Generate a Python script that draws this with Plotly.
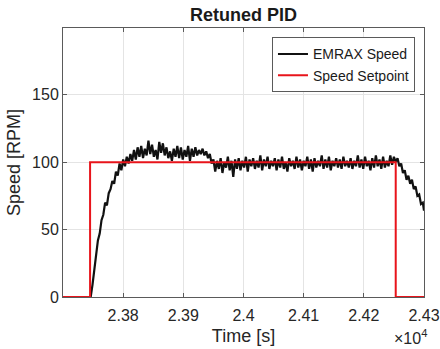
import plotly.graph_objects as go

# ---- data ----
t_start = 23746      # s, first sample of the speed trace after standstill
t_step = 3           # s, sampling interval used for the read-off values
pre_t = [23700, 23743]
pre_speed = [0, 0]
speed = [
    0, 9, 20, 31, 42, 47, 57, 61, 70, 68, 77, 80, 86, 84, 93, 90, 99, 94,
    102, 97, 104, 99, 106, 101, 109, 102, 111, 104, 112, 103, 110, 105, 116, 106,
    113, 104, 109, 102, 115, 107, 114, 105, 111, 103, 108, 101, 110, 104, 112, 103,
    111, 102, 109, 104, 112, 101, 110, 104, 111, 105, 109, 106, 110, 105, 108, 103,
    106, 99, 102, 93, 101, 95, 103, 92, 100, 96, 104, 94, 101, 89, 102, 95,
    103, 94, 101, 96, 104, 93, 102, 97, 103, 95, 101, 96, 105, 94, 102, 97,
    104, 95, 101, 97, 103, 94, 102, 96, 104, 95, 100, 93, 103, 97, 101, 95,
    104, 96, 102, 94, 101, 97, 104, 95, 102, 93, 103, 96, 101, 97, 105, 95,
    102, 96, 104, 94, 101, 97, 103, 96, 102, 95, 104, 97, 101, 96, 103, 95,
    101, 97, 105, 96, 102, 95, 104, 97, 101, 94, 103, 96, 105, 97, 102, 95,
    104, 96, 101, 97, 105, 98, 104, 100, 103, 97, 99, 92, 94, 87, 90, 84,
    87, 80, 82, 75, 76, 69, 70,
]
end_t = [24300]
end_speed = [64]

setpoint_t = [23700, 23745, 23745, 24253, 24253, 24300]
setpoint_v = [0, 0, 100, 100, 0, 0]

xtick_vals = [23800, 23900, 24000, 24100, 24200, 24300]
xtick_text = ["2.38", "2.39", "2.4", "2.41", "2.42", "2.43"]
ytick_vals = [0, 50, 100, 150]

speed_t = pre_t + [t_start + t_step * i for i in range(len(speed))] + end_t
speed_v = pre_speed + speed + end_speed

FONT = "Liberation Sans, Arial, sans-serif"
AX = "#5a5a5a"

fig = go.Figure()
fig.add_trace(go.Scatter(x=speed_t, y=speed_v, mode="lines", name="EMRAX Speed",
                         line=dict(color="#111111", width=2.2)))
fig.add_trace(go.Scatter(x=setpoint_t, y=setpoint_v, mode="lines", name="Speed Setpoint",
                         line=dict(color="#e8141b", width=2)))

fig.update_layout(
    width=440, height=349,
    margin=dict(l=63, r=16, t=28, b=52, autoexpand=False),
    paper_bgcolor="white", plot_bgcolor="white",
    font=dict(family=FONT, color="#262626", size=16),
    title=dict(text="<b>Retuned PID</b>", xref="paper", x=0.5, xanchor="center",
               yref="container", y=0.957, yanchor="middle",
               font=dict(size=18, color="#1a1a1a"), automargin=False),
    showlegend=True,
    legend=dict(x=0.975, y=0.965, xanchor="right", yanchor="top",
                bgcolor="white", bordercolor=AX, borderwidth=1,
                font=dict(size=14, color="#1a1a1a"),
                tracegroupgap=0, itemwidth=30),
)
fig.update_xaxes(
    range=[23700, 24300], tickvals=xtick_vals, ticktext=xtick_text,
    showgrid=True, gridcolor="#e4e4e4", gridwidth=1, zeroline=False,
    showline=True, linecolor=AX, linewidth=1, mirror="ticks",
    ticks="inside", ticklen=4, tickcolor=AX, ticklabelstandoff=4,
    title=dict(text="Time [s]", font=dict(size=18), standoff=6),
    tickfont=dict(size=16), automargin=False,
)
fig.update_yaxes(
    range=[0, 199.5], tickvals=ytick_vals,
    showgrid=True, gridcolor="#e4e4e4", gridwidth=1, zeroline=False,
    showline=True, linecolor=AX, linewidth=1, mirror="ticks",
    ticks="inside", ticklen=4, tickcolor=AX,
    title=dict(text="Speed [RPM]", font=dict(size=18), standoff=6),
    tickfont=dict(size=16), automargin=False,
)
fig.add_annotation(text="×10<sup>4</sup>", xref="paper", yref="paper",
                   x=1.015, y=-0.148, xanchor="right", yanchor="middle",
                   showarrow=False, font=dict(size=16, color="#262626"))

fig.write_html("out.html")
